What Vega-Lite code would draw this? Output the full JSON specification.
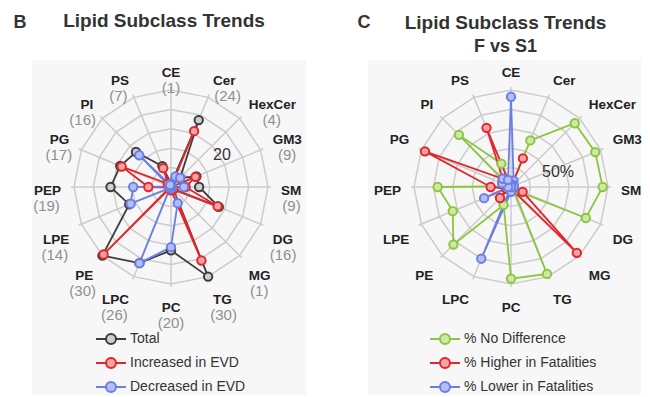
{
  "$schema": "https://vega.github.io/schema/vega-lite/v6.json",
  "background": "white",
  "padding": {"left": 13, "top": 12, "right": 5, "bottom": 4},
  "spacing": 51,
  "config": {"view": {"stroke": null}, "font": "Liberation Sans"},
  "resolve": {
    "scale": {"stroke": "independent", "fill": "independent"},
    "legend": {"stroke": "independent", "fill": "independent"}
  },
  "datasets": {
    "lipids": [
      {"lipid": "CE", "n": "(1)"}, {"lipid": "Cer", "n": "(24)"}, {"lipid": "HexCer", "n": "(4)"}, {"lipid": "GM3", "n": "(9)"},
      {"lipid": "SM", "n": "(9)"}, {"lipid": "DG", "n": "(16)"}, {"lipid": "MG", "n": "(1)"}, {"lipid": "TG", "n": "(30)"},
      {"lipid": "PC", "n": "(20)"}, {"lipid": "LPC", "n": "(26)"}, {"lipid": "PE", "n": "(30)"}, {"lipid": "LPE", "n": "(14)"},
      {"lipid": "PEP", "n": "(19)"}, {"lipid": "PG", "n": "(17)"}, {"lipid": "PI", "n": "(16)"}, {"lipid": "PS", "n": "(7)"}
    ],
    "rings": [
      {"f": 0.2, "k": [0,1,2,3,4,5,6,7,8,9,10,11,12,13,14,15]},
      {"f": 0.4, "k": [0,1,2,3,4,5,6,7,8,9,10,11,12,13,14,15]},
      {"f": 0.6, "k": [0,1,2,3,4,5,6,7,8,9,10,11,12,13,14,15]},
      {"f": 0.8, "k": [0,1,2,3,4,5,6,7,8,9,10,11,12,13,14,15]},
      {"f": 1.0, "k": [0,1,2,3,4,5,6,7,8,9,10,11,12,13,14,15]}
    ],
    "b": [
      {"lipid": "CE", "series": "Total", "v": 1}, {"lipid": "Cer", "series": "Total", "v": 22.4}, {"lipid": "HexCer", "series": "Total", "v": 4},
      {"lipid": "GM3", "series": "Total", "v": 8.5}, {"lipid": "SM", "series": "Total", "v": 8.7}, {"lipid": "DG", "series": "Total", "v": 16},
      {"lipid": "MG", "series": "Total", "v": 1}, {"lipid": "TG", "series": "Total", "v": 30}, {"lipid": "PC", "series": "Total", "v": 19.6},
      {"lipid": "LPC", "series": "Total", "v": 25.5}, {"lipid": "PE", "series": "Total", "v": 30}, {"lipid": "LPE", "series": "Total", "v": 14},
      {"lipid": "PEP", "series": "Total", "v": 18.7}, {"lipid": "PG", "series": "Total", "v": 17}, {"lipid": "PI", "series": "Total", "v": 15.3},
      {"lipid": "PS", "series": "Total", "v": 7},
      {"lipid": "CE", "series": "Increased in EVD", "v": 0}, {"lipid": "Cer", "series": "Increased in EVD", "v": 18.7}, {"lipid": "HexCer", "series": "Increased in EVD", "v": 0},
      {"lipid": "GM3", "series": "Increased in EVD", "v": 8.2}, {"lipid": "SM", "series": "Increased in EVD", "v": 4.5}, {"lipid": "DG", "series": "Increased in EVD", "v": 15.6},
      {"lipid": "MG", "series": "Increased in EVD", "v": 1}, {"lipid": "TG", "series": "Increased in EVD", "v": 24.6}, {"lipid": "PC", "series": "Increased in EVD", "v": 1},
      {"lipid": "LPC", "series": "Increased in EVD", "v": 0}, {"lipid": "PE", "series": "Increased in EVD", "v": 29.5}, {"lipid": "LPE", "series": "Increased in EVD", "v": 0.5},
      {"lipid": "PEP", "series": "Increased in EVD", "v": 7}, {"lipid": "PG", "series": "Increased in EVD", "v": 16.5}, {"lipid": "PI", "series": "Increased in EVD", "v": 1.4},
      {"lipid": "PS", "series": "Increased in EVD", "v": 6.3},
      {"lipid": "CE", "series": "Decreased in EVD", "v": 1}, {"lipid": "Cer", "series": "Decreased in EVD", "v": 3.5}, {"lipid": "HexCer", "series": "Decreased in EVD", "v": 4},
      {"lipid": "GM3", "series": "Decreased in EVD", "v": 0.3}, {"lipid": "SM", "series": "Decreased in EVD", "v": 4}, {"lipid": "DG", "series": "Decreased in EVD", "v": 0.4},
      {"lipid": "MG", "series": "Decreased in EVD", "v": 0}, {"lipid": "TG", "series": "Decreased in EVD", "v": 5.4}, {"lipid": "PC", "series": "Decreased in EVD", "v": 18.6},
      {"lipid": "LPC", "series": "Decreased in EVD", "v": 25.5}, {"lipid": "PE", "series": "Decreased in EVD", "v": 0.5}, {"lipid": "LPE", "series": "Decreased in EVD", "v": 13.5},
      {"lipid": "PEP", "series": "Decreased in EVD", "v": 11.7}, {"lipid": "PG", "series": "Decreased in EVD", "v": 0.5}, {"lipid": "PI", "series": "Decreased in EVD", "v": 13.9},
      {"lipid": "PS", "series": "Decreased in EVD", "v": 0.7}
    ],
    "c": [
      {"lipid": "CE", "series": "% No Difference", "v": 0}, {"lipid": "Cer", "series": "% No Difference", "v": 52}, {"lipid": "HexCer", "series": "% No Difference", "v": 93},
      {"lipid": "GM3", "series": "% No Difference", "v": 94}, {"lipid": "SM", "series": "% No Difference", "v": 94.5}, {"lipid": "DG", "series": "% No Difference", "v": 83.5},
      {"lipid": "MG", "series": "% No Difference", "v": 4}, {"lipid": "TG", "series": "% No Difference", "v": 97}, {"lipid": "PC", "series": "% No Difference", "v": 94.5},
      {"lipid": "LPC", "series": "% No Difference", "v": 20}, {"lipid": "PE", "series": "% No Difference", "v": 84}, {"lipid": "LPE", "series": "% No Difference", "v": 65},
      {"lipid": "PEP", "series": "% No Difference", "v": 75.6}, {"lipid": "PG", "series": "% No Difference", "v": 2}, {"lipid": "PI", "series": "% No Difference", "v": 76},
      {"lipid": "PS", "series": "% No Difference", "v": 26},
      {"lipid": "CE", "series": "% Higher in Fatalities", "v": 0}, {"lipid": "Cer", "series": "% Higher in Fatalities", "v": 32}, {"lipid": "HexCer", "series": "% Higher in Fatalities", "v": 0},
      {"lipid": "GM3", "series": "% Higher in Fatalities", "v": 0}, {"lipid": "SM", "series": "% Higher in Fatalities", "v": 2}, {"lipid": "DG", "series": "% Higher in Fatalities", "v": 13},
      {"lipid": "MG", "series": "% Higher in Fatalities", "v": 96}, {"lipid": "TG", "series": "% Higher in Fatalities", "v": 3}, {"lipid": "PC", "series": "% Higher in Fatalities", "v": 0},
      {"lipid": "LPC", "series": "% Higher in Fatalities", "v": 0}, {"lipid": "PE", "series": "% Higher in Fatalities", "v": 16}, {"lipid": "LPE", "series": "% Higher in Fatalities", "v": 5},
      {"lipid": "PEP", "series": "% Higher in Fatalities", "v": 21}, {"lipid": "PG", "series": "% Higher in Fatalities", "v": 96}, {"lipid": "PI", "series": "% Higher in Fatalities", "v": 12},
      {"lipid": "PS", "series": "% Higher in Fatalities", "v": 66},
      {"lipid": "CE", "series": "% Lower in Fatalities", "v": 93}, {"lipid": "Cer", "series": "% Lower in Fatalities", "v": 7}, {"lipid": "HexCer", "series": "% Lower in Fatalities", "v": 3},
      {"lipid": "GM3", "series": "% Lower in Fatalities", "v": 3}, {"lipid": "SM", "series": "% Lower in Fatalities", "v": 3}, {"lipid": "DG", "series": "% Lower in Fatalities", "v": 0},
      {"lipid": "MG", "series": "% Lower in Fatalities", "v": 0}, {"lipid": "TG", "series": "% Lower in Fatalities", "v": 0}, {"lipid": "PC", "series": "% Lower in Fatalities", "v": 5},
      {"lipid": "LPC", "series": "% Lower in Fatalities", "v": 80}, {"lipid": "PE", "series": "% Lower in Fatalities", "v": 0}, {"lipid": "LPE", "series": "% Lower in Fatalities", "v": 30},
      {"lipid": "PEP", "series": "% Lower in Fatalities", "v": 3}, {"lipid": "PG", "series": "% Lower in Fatalities", "v": 10}, {"lipid": "PI", "series": "% Lower in Fatalities", "v": 12},
      {"lipid": "PS", "series": "% Lower in Fatalities", "v": 8}
    ]
  },
  "hconcat": [
    {
      "width": 274,
      "height": 335,
      "view": {"fill": "#f7f7f7", "stroke": null},
      "title": {"text": "Lipid Subclass Trends", "frame": "group", "anchor": "middle", "dx": -5, "dy": 49, "offset": 32, "font": "Liberation Sans", "fontSize": 19, "fontWeight": "bold", "color": "#333333"},
      "encoding": {
        "x": {"field": "x", "type": "quantitative", "scale": {"domain": [-139, 135], "nice": false, "zero": false}, "axis": null},
        "y": {"field": "y", "type": "quantitative", "scale": {"domain": [-208, 127], "nice": false, "zero": false}, "axis": null}
      },
      "layer": [
        {
          "data": {"name": "rings"},
          "transform": [
            {"flatten": ["k"]},
            {"calculate": "97*datum.f*sin(datum.k*PI/8)", "as": "x"},
            {"calculate": "97*datum.f*cos(datum.k*PI/8)", "as": "y"}
          ],
          "mark": {"type": "line", "interpolate": "linear-closed", "stroke": "#cccccc", "strokeWidth": 1.5},
          "encoding": {"detail": {"field": "f", "type": "nominal"}, "order": {"field": "k", "type": "quantitative"}}
        },
        {
          "data": {"name": "lipids"},
          "transform": [
            {"calculate": "indexof(['CE','Cer','HexCer','GM3','SM','DG','MG','TG','PC','LPC','PE','LPE','PEP','PG','PI','PS'], datum.lipid)", "as": "i"},
            {"calculate": "100*sin(datum.i*PI/8)", "as": "x"},
            {"calculate": "100*cos(datum.i*PI/8)", "as": "y"}
          ],
          "mark": {"type": "rule", "stroke": "#cccccc", "strokeWidth": 1.5},
          "encoding": {"x2": {"datum": 0}, "y2": {"datum": 0}}
        },
        {
          "data": {"name": "b"},
          "transform": [
            {"calculate": "indexof(['CE','Cer','HexCer','GM3','SM','DG','MG','TG','PC','LPC','PE','LPE','PEP','PG','PI','PS'], datum.lipid)", "as": "i"},
            {"calculate": "datum.v*97/30*sin(datum.i*PI/8)", "as": "x"},
            {"calculate": "datum.v*97/30*cos(datum.i*PI/8)", "as": "y"}
          ],
          "mark": {"type": "line", "interpolate": "linear-closed", "strokeWidth": 1.8},
          "encoding": {
            "stroke": {"field": "series", "type": "nominal",
              "scale": {"domain": ["Total", "Increased in EVD", "Decreased in EVD"], "range": ["#3d3d3d", "#e3262b", "#6a7ee6"]},
              "legend": {"title": null, "orient": "none", "legendX": 68, "legendY": 268, "symbolType": "M-1.5,0L-0.5,0M0.5,0L1.5,0M-0.5,0A0.5,0.5,0,1,1,0.5,0A0.5,0.5,0,1,1,-0.5,0Z", "symbolSize": 400, "symbolStrokeWidth": 2, "labelFont": "Liberation Sans", "labelFontSize": 14, "labelColor": "#333333", "labelOffset": 8, "rowPadding": 4}},
            "order": {"field": "i", "type": "quantitative"}
          }
        },
        {
          "data": {"name": "b"},
          "transform": [
            {"calculate": "indexof(['CE','Cer','HexCer','GM3','SM','DG','MG','TG','PC','LPC','PE','LPE','PEP','PG','PI','PS'], datum.lipid)", "as": "i"},
            {"calculate": "datum.v*97/30*sin(datum.i*PI/8)", "as": "x"},
            {"calculate": "datum.v*97/30*cos(datum.i*PI/8)", "as": "y"}
          ],
          "mark": {"type": "point", "shape": "circle", "size": 70, "strokeWidth": 2, "opacity": 1},
          "encoding": {
            "stroke": {"field": "series", "type": "nominal",
              "scale": {"domain": ["Total", "Increased in EVD", "Decreased in EVD"], "range": ["#3d3d3d", "#e3262b", "#6a7ee6"]},
              "legend": {"title": null, "orient": "none", "legendX": 68, "legendY": 268, "symbolType": "M-1.5,0L-0.5,0M0.5,0L1.5,0M-0.5,0A0.5,0.5,0,1,1,0.5,0A0.5,0.5,0,1,1,-0.5,0Z", "symbolSize": 400, "symbolStrokeWidth": 2, "labelFont": "Liberation Sans", "labelFontSize": 14, "labelColor": "#333333", "labelOffset": 8, "rowPadding": 4}},
            "fill": {"field": "series", "type": "nominal",
              "scale": {"domain": ["Total", "Increased in EVD", "Decreased in EVD"], "range": ["#cfcfcf", "#f5a5a5", "#b4bdf5"]},
              "legend": {"title": null, "orient": "none", "legendX": 68, "legendY": 268, "symbolType": "M-1.5,0L-0.5,0M0.5,0L1.5,0M-0.5,0A0.5,0.5,0,1,1,0.5,0A0.5,0.5,0,1,1,-0.5,0Z", "symbolSize": 400, "symbolStrokeWidth": 2, "labelFont": "Liberation Sans", "labelFontSize": 14, "labelColor": "#333333", "labelOffset": 8, "rowPadding": 4}}
          }
        },
        {
          "data": {"name": "lipids"},
          "transform": [
            {"calculate": "indexof(['CE','Cer','HexCer','GM3','SM','DG','MG','TG','PC','LPC','PE','LPE','PEP','PG','PI','PS'], datum.lipid)", "as": "i"},
            {"calculate": "sin(datum.i*PI/8)", "as": "s"},
            {"calculate": "cos(datum.i*PI/8)", "as": "c"},
            {"calculate": "110*datum.s", "as": "x"},
            {"calculate": "110*datum.c + (datum.c > 0.1 ? 4.5 : datum.c < -0.1 ? -11 : -3.5)", "as": "y"}
          ],
          "mark": {"type": "text", "align": {"expr": "datum.s > 0.1 ? 'left' : datum.s < -0.1 ? 'right' : 'center'"}, "baseline": "middle", "font": "Liberation Sans", "fontWeight": "bold", "fontSize": 13.5, "fill": "#222222"},
          "encoding": {"text": {"field": "lipid"}}
        },
        {
          "data": {"name": "lipids"},
          "transform": [
            {"calculate": "indexof(['CE','Cer','HexCer','GM3','SM','DG','MG','TG','PC','LPC','PE','LPE','PEP','PG','PI','PS'], datum.lipid)", "as": "i"},
            {"calculate": "sin(datum.i*PI/8)", "as": "s"},
            {"calculate": "cos(datum.i*PI/8)", "as": "c"},
            {"calculate": "110*datum.s + (datum.s > 0.1 ? 1 : datum.s < -0.1 ? -1 : 0) * min(5 + 8*length(datum.lipid), 46) / 2", "as": "x"},
            {"calculate": "110*datum.c + (datum.c > 0.1 ? 4.5 : datum.c < -0.1 ? -11 : -3.5) - 15", "as": "y"}
          ],
          "mark": {"type": "text", "align": "center", "baseline": "middle", "font": "Liberation Sans", "fontSize": 15, "fill": "#8f8f8f"},
          "encoding": {"text": {"field": "n"}}
        },
        {
          "data": {"values": [{"t": "20"}]},
          "transform": [{"calculate": "51", "as": "x"}, {"calculate": "32", "as": "y"}],
          "mark": {"type": "text", "align": "center", "baseline": "middle", "font": "Liberation Sans", "fontSize": 16, "fill": "#333333"},
          "encoding": {"text": {"field": "t", "type": "nominal"}}
        },
        {
          "data": {"values": [{"t": "B"}]},
          "transform": [{"calculate": "-151", "as": "x"}, {"calculate": "164", "as": "y"}],
          "mark": {"type": "text", "align": "center", "baseline": "middle", "font": "Liberation Sans", "fontWeight": "bold", "fontSize": 18, "fill": "#333333"},
          "encoding": {"text": {"field": "t", "type": "nominal"}}
        }
      ]
    },
    {
      "width": 273,
      "height": 335,
      "view": {"fill": "#f7f7f7", "stroke": null},
      "title": {"text": "Lipid Subclass Trends", "subtitle": "F vs S1", "frame": "group", "anchor": "middle", "dx": 1, "dy": 49, "offset": 7, "subtitlePadding": 5, "font": "Liberation Sans", "fontSize": 19, "fontWeight": "bold", "color": "#333333", "subtitleFont": "Liberation Sans", "subtitleFontSize": 18, "subtitleFontWeight": "bold", "subtitleColor": "#333333"},
      "encoding": {
        "x": {"field": "x", "type": "quantitative", "scale": {"domain": [-143, 130], "nice": false, "zero": false}, "axis": null},
        "y": {"field": "y", "type": "quantitative", "scale": {"domain": [-208, 127], "nice": false, "zero": false}, "axis": null}
      },
      "layer": [
        {
          "data": {"name": "rings"},
          "transform": [
            {"flatten": ["k"]},
            {"calculate": "97*datum.f*sin(datum.k*PI/8)", "as": "x"},
            {"calculate": "97*datum.f*cos(datum.k*PI/8)", "as": "y"}
          ],
          "mark": {"type": "line", "interpolate": "linear-closed", "stroke": "#cccccc", "strokeWidth": 1.5},
          "encoding": {"detail": {"field": "f", "type": "nominal"}, "order": {"field": "k", "type": "quantitative"}}
        },
        {
          "data": {"name": "lipids"},
          "transform": [
            {"calculate": "indexof(['CE','Cer','HexCer','GM3','SM','DG','MG','TG','PC','LPC','PE','LPE','PEP','PG','PI','PS'], datum.lipid)", "as": "i"},
            {"calculate": "100*sin(datum.i*PI/8)", "as": "x"},
            {"calculate": "100*cos(datum.i*PI/8)", "as": "y"}
          ],
          "mark": {"type": "rule", "stroke": "#cccccc", "strokeWidth": 1.5},
          "encoding": {"x2": {"datum": 0}, "y2": {"datum": 0}}
        },
        {
          "data": {"name": "c"},
          "transform": [
            {"calculate": "indexof(['CE','Cer','HexCer','GM3','SM','DG','MG','TG','PC','LPC','PE','LPE','PEP','PG','PI','PS'], datum.lipid)", "as": "i"},
            {"calculate": "datum.v*0.97*sin(datum.i*PI/8)", "as": "x"},
            {"calculate": "datum.v*0.97*cos(datum.i*PI/8)", "as": "y"}
          ],
          "mark": {"type": "line", "interpolate": "linear-closed", "strokeWidth": 1.8},
          "encoding": {
            "stroke": {"field": "series", "type": "nominal",
              "scale": {"domain": ["% No Difference", "% Higher in Fatalities", "% Lower in Fatalities"], "range": ["#8cc63f", "#e3262b", "#6a7ee6"]},
              "legend": {"title": null, "orient": "none", "legendX": 66, "legendY": 268, "symbolType": "M-1.5,0L-0.5,0M0.5,0L1.5,0M-0.5,0A0.5,0.5,0,1,1,0.5,0A0.5,0.5,0,1,1,-0.5,0Z", "symbolSize": 400, "symbolStrokeWidth": 2, "labelFont": "Liberation Sans", "labelFontSize": 14, "labelColor": "#333333", "labelOffset": 8, "rowPadding": 4}},
            "order": {"field": "i", "type": "quantitative"}
          }
        },
        {
          "data": {"name": "c"},
          "transform": [
            {"calculate": "indexof(['CE','Cer','HexCer','GM3','SM','DG','MG','TG','PC','LPC','PE','LPE','PEP','PG','PI','PS'], datum.lipid)", "as": "i"},
            {"calculate": "datum.v*0.97*sin(datum.i*PI/8)", "as": "x"},
            {"calculate": "datum.v*0.97*cos(datum.i*PI/8)", "as": "y"}
          ],
          "mark": {"type": "point", "shape": "circle", "size": 70, "strokeWidth": 2, "opacity": 1},
          "encoding": {
            "stroke": {"field": "series", "type": "nominal",
              "scale": {"domain": ["% No Difference", "% Higher in Fatalities", "% Lower in Fatalities"], "range": ["#8cc63f", "#e3262b", "#6a7ee6"]},
              "legend": {"title": null, "orient": "none", "legendX": 66, "legendY": 268, "symbolType": "M-1.5,0L-0.5,0M0.5,0L1.5,0M-0.5,0A0.5,0.5,0,1,1,0.5,0A0.5,0.5,0,1,1,-0.5,0Z", "symbolSize": 400, "symbolStrokeWidth": 2, "labelFont": "Liberation Sans", "labelFontSize": 14, "labelColor": "#333333", "labelOffset": 8, "rowPadding": 4}},
            "fill": {"field": "series", "type": "nominal",
              "scale": {"domain": ["% No Difference", "% Higher in Fatalities", "% Lower in Fatalities"], "range": ["#cfe8a8", "#f5a5a5", "#b4bdf5"]},
              "legend": {"title": null, "orient": "none", "legendX": 66, "legendY": 268, "symbolType": "M-1.5,0L-0.5,0M0.5,0L1.5,0M-0.5,0A0.5,0.5,0,1,1,0.5,0A0.5,0.5,0,1,1,-0.5,0Z", "symbolSize": 400, "symbolStrokeWidth": 2, "labelFont": "Liberation Sans", "labelFontSize": 14, "labelColor": "#333333", "labelOffset": 8, "rowPadding": 4}}
          }
        },
        {
          "data": {"name": "lipids"},
          "transform": [
            {"calculate": "indexof(['CE','Cer','HexCer','GM3','SM','DG','MG','TG','PC','LPC','PE','LPE','PEP','PG','PI','PS'], datum.lipid)", "as": "i"},
            {"calculate": "sin(datum.i*PI/8)", "as": "s"},
            {"calculate": "cos(datum.i*PI/8)", "as": "c"},
            {"calculate": "110*datum.s", "as": "x"},
            {"calculate": "110*datum.c + (datum.c > 0.1 ? 4.5 : datum.c < -0.1 ? -11 : -3.5)", "as": "y"}
          ],
          "mark": {"type": "text", "align": {"expr": "datum.s > 0.1 ? 'left' : datum.s < -0.1 ? 'right' : 'center'"}, "baseline": "middle", "font": "Liberation Sans", "fontWeight": "bold", "fontSize": 13.5, "fill": "#222222"},
          "encoding": {"text": {"field": "lipid"}}
        },
        {
          "data": {"values": [{"t": "50%"}]},
          "transform": [{"calculate": "47", "as": "x"}, {"calculate": "15", "as": "y"}],
          "mark": {"type": "text", "align": "center", "baseline": "middle", "font": "Liberation Sans", "fontSize": 16, "fill": "#333333"},
          "encoding": {"text": {"field": "t", "type": "nominal"}}
        },
        {
          "data": {"values": [{"t": "C"}]},
          "transform": [{"calculate": "-147", "as": "x"}, {"calculate": "164", "as": "y"}],
          "mark": {"type": "text", "align": "center", "baseline": "middle", "font": "Liberation Sans", "fontWeight": "bold", "fontSize": 18, "fill": "#333333"},
          "encoding": {"text": {"field": "t", "type": "nominal"}}
        }
      ]
    }
  ]
}
